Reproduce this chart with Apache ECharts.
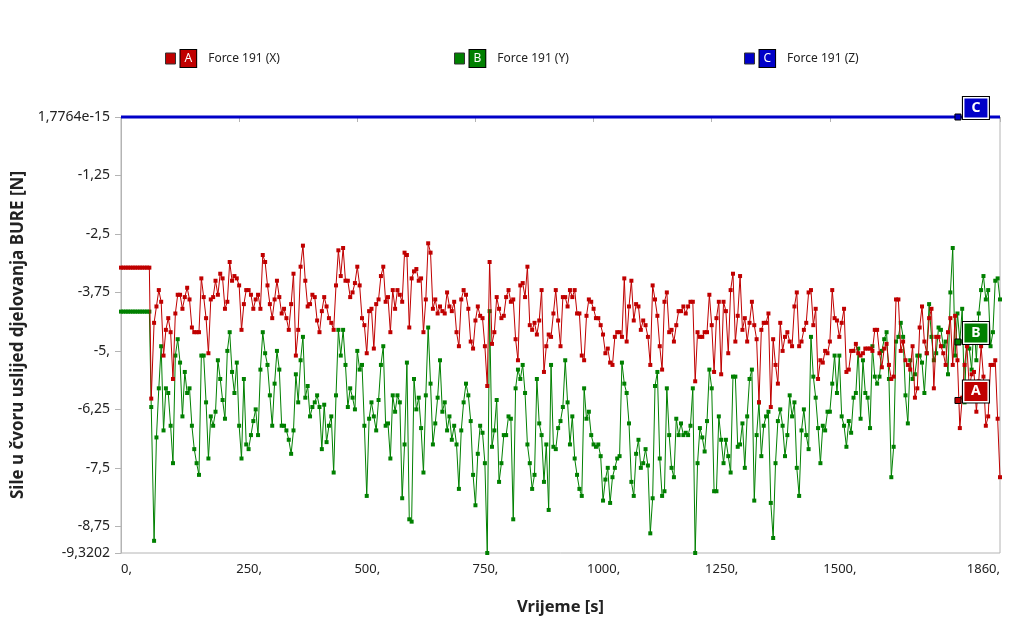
<!DOCTYPE html>
<html>
<head>
<meta charset="utf-8">
<script src="https://cdn.jsdelivr.net/npm/echarts@6/dist/echarts.min.js"></script>
<style>
    html, body { margin: 0; padding: 0; background: #fff; }
    #chart { width: 1017px; height: 635px; }
</style>
</head>
<body>
<div id="chart"></div>
<script>
// sample times [s], main grid
var times = [
    0, 5, 10, 15, 20, 25, 30, 35, 40, 45, 50, 55, 60, 64,
    70, 80, 90, 100, 110, 120, 130, 140, 150, 160, 170, 180, 190, 200, 210, 220, 230, 240, 250, 260,
    270, 280, 290, 300, 310, 320, 330, 340, 350, 360, 370, 380, 390, 400, 410, 420, 430, 440, 450, 460,
    470, 480, 490, 500, 510, 520, 530, 540, 550, 560, 570, 580, 590, 600, 610, 620, 630, 640, 650, 660,
    670, 680, 690, 700, 710, 720, 730, 740, 750, 760, 770, 780, 790, 800, 810, 820, 830, 840, 850, 860,
    870, 880, 890, 900, 910, 920, 930, 940, 950, 960, 970, 980, 990, 1000, 1010, 1020, 1030, 1040, 1050, 1060,
    1070, 1080, 1090, 1100, 1110, 1120, 1130, 1140, 1150, 1160, 1170, 1180, 1190, 1200, 1210, 1220, 1230, 1240, 1250, 1260,
    1270, 1280, 1290, 1300, 1310, 1320, 1330, 1340, 1350, 1360, 1370, 1380, 1390, 1400, 1410, 1420, 1430, 1440, 1450, 1460,
    1470, 1480, 1490, 1500, 1510, 1520, 1530, 1540, 1550, 1560, 1570, 1580, 1590, 1600, 1610, 1620, 1630, 1640, 1650, 1660,
    1670, 1680, 1690, 1700, 1710, 1720, 1730, 1740, 1750, 1760, 1770, 1780, 1790, 1800, 1810, 1820, 1830, 1840, 1850, 1860
];

// in-between sample times [s]
var timesMid = [
    75, 85, 95, 105, 115, 125, 135, 145, 155, 165,
    175, 185, 195, 205, 215, 225, 235, 245, 255, 265,
    275, 285, 295, 305, 315, 325, 335, 345, 355, 365,
    375, 385, 395, 405, 415, 425, 435, 445, 455, 465,
    475, 485, 495, 505, 515, 525, 535, 545, 555, 565,
    575, 585, 595, 605, 615, 625, 635, 645, 655, 665,
    675, 685, 695, 705, 715, 725, 735, 745, 755, 765,
    775, 785, 795, 805, 815, 825, 835, 845, 855, 865,
    875, 885, 895, 905, 915, 925, 935, 945, 955, 965,
    975, 985, 995, 1005, 1015, 1025, 1035, 1045, 1055, 1065,
    1075, 1085, 1095, 1105, 1115, 1125, 1135, 1145, 1155, 1165,
    1175, 1185, 1195, 1205, 1215, 1225, 1235, 1245, 1255, 1265,
    1275, 1285, 1295, 1305, 1315, 1325, 1335, 1345, 1355, 1365,
    1375, 1385, 1395, 1405, 1415, 1425, 1435, 1445, 1455, 1465,
    1475, 1485, 1495, 1505, 1515, 1525, 1535, 1545, 1555, 1565,
    1575, 1585, 1595, 1605, 1615, 1625, 1635, 1645, 1655, 1665,
    1675, 1685, 1695, 1705, 1715, 1725, 1735, 1745, 1755, 1765,
    1775, 1785, 1795, 1805, 1815, 1825, 1835, 1845, 1855
];

// Force 191 (X) at times
var forceX = [
    -3.22, -3.22, -3.22, -3.22, -3.22, -3.22, -3.22, -3.22, -3.22, -3.22, -3.22, -3.22, -3.22, -6.02,
    -4.4, -3.7, -5.1, -4.3, -5.6, -3.8, -4.1, -3.65, -4.5, -4.6, -3.45, -4.3, -3.9, -3.5, -3.35, -4.1, -3.1, -3.4, -3.6, -4.0,
    -3.7, -4.1, -3.8, -2.95, -3.6, -4.3, -3.5, -4.2, -4.3, -4.0, -5.1, -3.2, -3.5, -4.0, -3.85, -4.6, -3.85, -4.3, -4.55, -2.85,
    -2.8, -3.5, -3.75, -3.2, -4.3, -5.05, -4.1, -4.0, -3.4, -3.95, -4.6, -4.1, -3.8, -2.9, -4.5, -3.3, -3.5, -4.6, -2.7, -4.1,
    -4.2, -4.15, -3.75, -4.15, -4.6, -3.9, -3.8, -4.8, -4.35, -4.25, -4.9, -3.1, -4.6, -4.1, -4.25, -3.7, -3.9, -5.2, -3.55, -3.2,
    -4.55, -4.65, -3.7, -4.9, -4.7, -3.7, -4.9, -3.85, -3.7, -3.7, -4.2, -5.2, -3.9, -4.1, -4.3, -4.65, -4.95, -5.3, -4.6, -4.7,
    -4.8, -3.5, -4.0, -4.55, -4.45, -5.3, -3.9, -4.9, -3.95, -4.6, -4.8, -4.15, -4.05, -4.05, -3.95, -4.6, -4.7, -4.6, -4.45, -4.3,
    -5.5, -4.15, -3.7, -4.8, -3.4, -4.3, -4.4, -4.45, -6.1, -4.4, -4.2, -4.75, -5.7, -5.0, -4.6, -4.9, -3.75, -4.8, -4.4, -3.7,
    -4.1, -5.2, -5.0, -4.8, -4.3, -4.7, -4.1, -5.4, -5.0, -5.05, -5.05, -4.95, -5.0, -4.55, -5.35, -4.85, -5.6, -3.9, -5.0, -5.2,
    -5.4, -6.0, -4.5, -4.8, -4.3, -5.8, -4.7, -5.05, -4.6, -5.3, -5.2, -6.0, -4.9, -5.5, -6.3, -4.9, -6.6, -5.3, -5.2, -7.7
];

// Force 191 (X) at timesMid
var forceXMid = [
    -4.05, -3.95, -4.55, -4.6, -4.2, -3.8, -3.85, -3.9, -4.6, -4.6,
    -3.85, -5.05, -3.85, -3.8, -3.45, -3.95, -3.5, -3.45, -4.55, -3.7,
    -3.8, -3.9, -4.1, -3.1, -4.0, -3.9, -3.85, -4.1, -4.55, -3.35,
    -4.55, -2.75, -4.05, -3.8, -4.35, -4.15, -4.05, -4.4, -3.6, -3.4,
    -3.5, -3.85, -3.55, -3.6, -4.45, -4.15, -4.95, -3.9, -3.2, -3.85,
    -3.7, -3.7, -3.95, -2.95, -3.45, -3.25, -3.45, -3.9, -2.9, -3.9,
    -4.05, -4.2, -4.05, -3.95, -4.9, -3.7, -4.1, -4.95, -4.05, -4.3,
    -5.75, -4.85, -3.85, -4.3, -3.85, -3.95, -4.75, -3.6, -3.85, -4.45,
    -4.4, -4.35, -5.45, -4.65, -4.2, -4.35, -3.85, -4.05, -3.85, -4.2,
    -5.1, -4.25, -3.95, -4.3, -4.45, -5.05, -5.25, -4.7, -4.6, -3.45,
    -4.05, -4.35, -4.05, -4.35, -4.7, -3.6, -4.25, -5.4, -3.75, -4.55,
    -4.45, -4.15, -4.2, -3.95, -5.65, -4.7, -4.6, -3.8, -5.45, -3.95,
    -3.95, -5.05, -3.35, -4.25, -4.55, -4.8, -3.95, -4.75, -4.55, -4.4,
    -6.2, -5.3, -4.4, -4.7, -4.8, -4.05, -4.9, -4.55, -3.75, -4.45,
    -5.6, -5.25, -5.05, -3.7, -4.35, -4.4, -5.45, -5.0, -4.85, -5.1,
    -4.95, -4.95, -4.55, -5.05, -4.95, -5.3, -5.55, -3.9, -4.8, -5.3,
    -4.9, -5.8, -4.05, -5.05, -4.1, -4.7, -4.9, -5.3, -4.3, -4.25,
    -6.65, -5.3, -5.8, -5.45, -5.65, -5.55, -6.4, -5.3, -6.45
];

// Force 191 (Y) at times
var forceY = [
    -4.16, -4.16, -4.16, -4.16, -4.16, -4.16, -4.16, -4.16, -4.16, -4.16, -4.16, -4.16, -4.16, -6.2,
    -9.06, -5.8, -6.7, -5.9, -7.4, -4.75, -6.4, -5.9, -6.6, -7.4, -5.1, -6.1, -6.4, -6.3, -5.6, -6.45, -4.6, -5.9, -6.6, -5.6,
    -7.1, -6.5, -6.8, -4.6, -5.3, -6.6, -5.0, -6.6, -6.7, -7.2, -5.5, -5.2, -6.0, -6.4, -6.1, -6.2, -6.15, -6.6, -7.6, -4.55,
    -4.55, -6.2, -6.0, -5.0, -5.3, -8.1, -6.1, -6.7, -5.3, -6.6, -7.3, -6.3, -6.1, -7.0, -8.6, -5.6, -6.0, -7.6, -4.5, -7.0,
    -6.0, -6.3, -6.7, -6.9, -7.0, -6.7, -5.7, -6.5, -8.3, -6.6, -7.4, -4.15, -6.7, -7.8, -6.8, -6.4, -8.6, -5.4, -5.3, -7.0,
    -7.95, -5.6, -6.8, -7.0, -5.3, -7.1, -6.5, -5.2, -7.0, -7.3, -7.95, -5.8, -6.3, -7.0, -7.0, -8.2, -7.5, -7.7, -7.3, -5.25,
    -5.9, -7.8, -7.2, -7.5, -7.1, -8.9, -5.75, -7.3, -8.0, -6.8, -7.7, -6.8, -6.8, -6.8, -5.8, -7.4, -6.85, -6.5, -5.8, -8.0,
    -6.9, -6.9, -7.6, -5.55, -7.0, -7.5, -5.6, -8.2, -6.1, -6.6, -6.3, -9.0, -6.5, -6.6, -6.8, -6.4, -7.5, -6.7, -6.8, -4.7,
    -6.0, -7.4, -6.7, -6.3, -5.1, -5.1, -6.6, -6.5, -6.0, -4.95, -5.2, -6.0, -4.9, -5.7, -5.0, -4.6, -7.7, -4.8, -4.4, -5.95,
    -5.2, -5.5, -5.1, -5.9, -4.0, -5.2, -4.5, -4.9, -5.5, -2.8, -4.2, -4.1, -4.5, -5.4, -5.2, -3.7, -3.9, -4.9, -3.5, -3.9
];

// Force 191 (Y) at timesMid
var forceYMid = [
    -6.85, -4.9, -5.8, -6.6, -5.1, -5.25, -5.45, -5.8, -7.1, -7.65,
    -5.1, -7.3, -6.6, -5.2, -6.05, -5.0, -5.45, -5.25, -7.3, -7.0,
    -6.8, -6.25, -5.4, -5.05, -5.95, -5.7, -5.4, -6.6, -6.9, -6.7,
    -6.1, -4.7, -5.75, -6.2, -5.95, -7.1, -6.95, -6.4, -5.95, -5.1,
    -5.3, -5.8, -6.25, -5.4, -6.6, -6.45, -6.4, -6.05, -4.9, -6.55,
    -5.95, -5.95, -8.15, -5.25, -8.65, -6.25, -6.65, -5.95, -5.7, -6.55,
    -5.2, -6.1, -6.4, -6.6, -7.95, -6.1, -5.95, -7.65, -7.2, -6.75,
    -9.32, -7.05, -6.05, -7.4, -6.8, -6.45, -5.8, -5.6, -5.9, -7.4,
    -7.65, -6.55, -7.8, -8.4, -7.05, -6.65, -6.2, -6.1, -6.4, -7.65,
    -8.1, -6.45, -6.8, -7.05, -7.25, -7.75, -8.25, -7.5, -7.25, -5.7,
    -6.55, -8.1, -6.9, -7.4, -7.45, -8.15, -5.45, -8.1, -5.8, -7.5,
    -6.45, -6.55, -6.75, -6.6, -9.32, -6.65, -7.15, -5.4, -8.0, -6.4,
    -7.4, -7.25, -5.55, -7.05, -6.55, -6.4, -5.4, -6.8, -7.25, -6.4,
    -8.25, -7.4, -6.25, -7.25, -5.95, -6.1, -8.1, -6.25, -7.1, -5.55,
    -6.65, -6.6, -6.3, -5.7, -5.9, -6.4, -7.05, -6.75, -5.9, -6.45,
    -5.9, -6.65, -5.55, -5.55, -4.75, -5.6, -7.05, -4.7, -4.7, -6.55,
    -5.6, -5.1, -5.25, -5.05, -4.7, -5.05, -4.55, -4.8, -3.75, -5.1,
    -4.8, -6.1, -4.95, -4.4, -4.2, -3.4, -3.7, -4.6, -3.45
];

// Force 191 (Z)
var forceZTimes = [0, 1860];
var forceZ = [1.7764e-15, 1.7764e-15];

var seriesNames = ['Force 191 (X)', 'Force 191 (Y)', 'Force 191 (Z)'];
var seriesLetters = ['A', 'B', 'C'];
var colors = ['#c00000', '#008000', '#0000c8'];

var xTicks = [0, 250, 500, 750, 1000, 1250, 1500, 1860];
var yTicks = [1.7764e-15, -1.25, -2.5, -3.75, -5, -6.25, -7.5, -8.75, -9.3202];
var yTickLabels = ['1,7764e-15', '-1,25', '-2,5', '-3,75', '-5,', '-6,25', '-7,5', '-8,75', '-9,3202'];

// probe labels A, B, C (time, value)
var probeTime = 1771;
var probeValues = [-6.06, -4.81, 0];

function pairs(ts, vs) {
    return ts.map(function (t, i) { return [t, vs[i]]; });
}

function merged(ts, vs, tsMid, vsMid) {
    return pairs(ts, vs).concat(pairs(tsMid, vsMid)).sort(function (a, b) { return a[0] - b[0]; });
}

function probeMark(i) {
    var c = colors[i];
    var at = [probeTime, probeValues[i]];
    return {
        silent: true,
        data: [
            { coord: at, symbol: 'rect', symbolSize: 6,
              itemStyle: { color: c, borderColor: '#000', borderWidth: 1 }, label: { show: false } },
            { coord: at, symbol: 'rect', symbolSize: [27, 23], symbolOffset: [18, -9],
              itemStyle: { color: '#fff', borderColor: '#000', borderWidth: 1 }, label: { show: false } },
            { coord: at, symbol: 'rect', symbolSize: [23, 19], symbolOffset: [18, -9],
              itemStyle: { color: c, borderWidth: 0 },
              label: { show: true, position: 'inside', formatter: seriesLetters[i], color: '#fff',
                       fontSize: 14, fontWeight: 'bold', fontFamily: 'Noto Sans' } }
        ]
    };
}

function legendFor(i, left) {
    var rich = {
        b: { backgroundColor: colors[i], color: '#fff', borderColor: '#000', borderWidth: 1,
             padding: [3, 4, 2, 4], fontSize: 12, fontFamily: 'Noto Sans' },
        t: { fontSize: 12, color: '#222', padding: [0, 0, 0, 12], fontFamily: 'Noto Sans' }
    };
    return {
        data: [seriesNames[i]],
        left: left,
        top: 44,
        icon: 'rect',
        itemWidth: 10,
        itemHeight: 11,
        selectedMode: false,
        itemStyle: { borderColor: '#333', borderWidth: 1 },
        formatter: function (name) { return '{b|' + seriesLetters[i] + '}{t|' + name + '}'; },
        textStyle: { rich: rich }
    };
}

function lineSeries(i, data) {
    return {
        name: seriesNames[i],
        type: 'line',
        data: data,
        symbol: 'rect',
        symbolSize: 4,
        showAllSymbol: true,
        lineStyle: { width: 1, color: colors[i] },
        itemStyle: { color: colors[i] },
        markPoint: probeMark(i),
        z: 3 - i
    };
}

var chart = echarts.init(document.getElementById('chart'));
var option = {
    animation: false,
    backgroundColor: '#fff',
    textStyle: { fontFamily: 'Noto Sans' },
    color: colors,
    legend: [legendFor(0, 160), legendFor(1, 449), legendFor(2, 739)],
    grid: {
        left: 121, right: 17, top: 117, bottom: 82,
        show: true, borderColor: '#b4b4b4', borderWidth: 1
    },
    xAxis: {
        type: 'value',
        min: 0,
        max: 1860,
        name: 'Vrijeme [s]',
        nameLocation: 'middle',
        nameGap: 46,
        nameTextStyle: { fontSize: 16.5, fontWeight: 'bold', color: '#222' },
        axisLine: { lineStyle: { color: '#b4b4b4' } },
        axisTick: { customValues: xTicks, length: 5, lineStyle: { color: '#b4b4b4' } },
        splitLine: { show: false },
        axisLabel: {
            customValues: xTicks,
            color: '#222',
            fontSize: 13,
            margin: 10,
            alignMinLabel: 'left',
            alignMaxLabel: 'right',
            formatter: function (v) {
                if (v === 0 || v === 1860) return '{z|' + v + ',}';
                return '{n|' + v + ',}';
            },
            rich: {
                z: { fontSize: 13, color: '#222' },
                n: { fontSize: 13, color: '#222', padding: [0, 0, 0, 20] }
            }
        }
    },
    yAxis: {
        type: 'value',
        min: -9.3202,
        max: 1.7764e-15,
        name: 'Sile u čvoru uslijed djelovanja BURE [N]',
        nameLocation: 'middle',
        nameGap: 92,
        nameTextStyle: { fontSize: 17, fontWeight: 'bold', color: '#222' },
        axisLine: { show: true, lineStyle: { color: '#b4b4b4' } },
        axisTick: { show: true, customValues: yTicks, length: 6, lineStyle: { color: '#b4b4b4' } },
        splitLine: { show: false },
        axisLabel: {
            customValues: yTicks,
            color: '#222',
            fontSize: 14,
            margin: 11,
            formatter: function (v) {
                for (var i = 0; i < yTicks.length; i++) {
                    if (Math.abs(v - yTicks[i]) < 1e-6) return yTickLabels[i];
                }
                return '';
            }
        }
    },
    series: [
        lineSeries(0, merged(times, forceX, timesMid, forceXMid)),
        lineSeries(1, merged(times, forceY, timesMid, forceYMid)),
        {
            name: seriesNames[2],
            type: 'line',
            data: pairs(forceZTimes, forceZ),
            symbol: 'none',
            clip: false,
            lineStyle: { width: 3, color: colors[2] },
            itemStyle: { color: colors[2] },
            markPoint: probeMark(2),
            z: 4
        }
    ]
};
chart.setOption(option);
</script>
</body>
</html>
